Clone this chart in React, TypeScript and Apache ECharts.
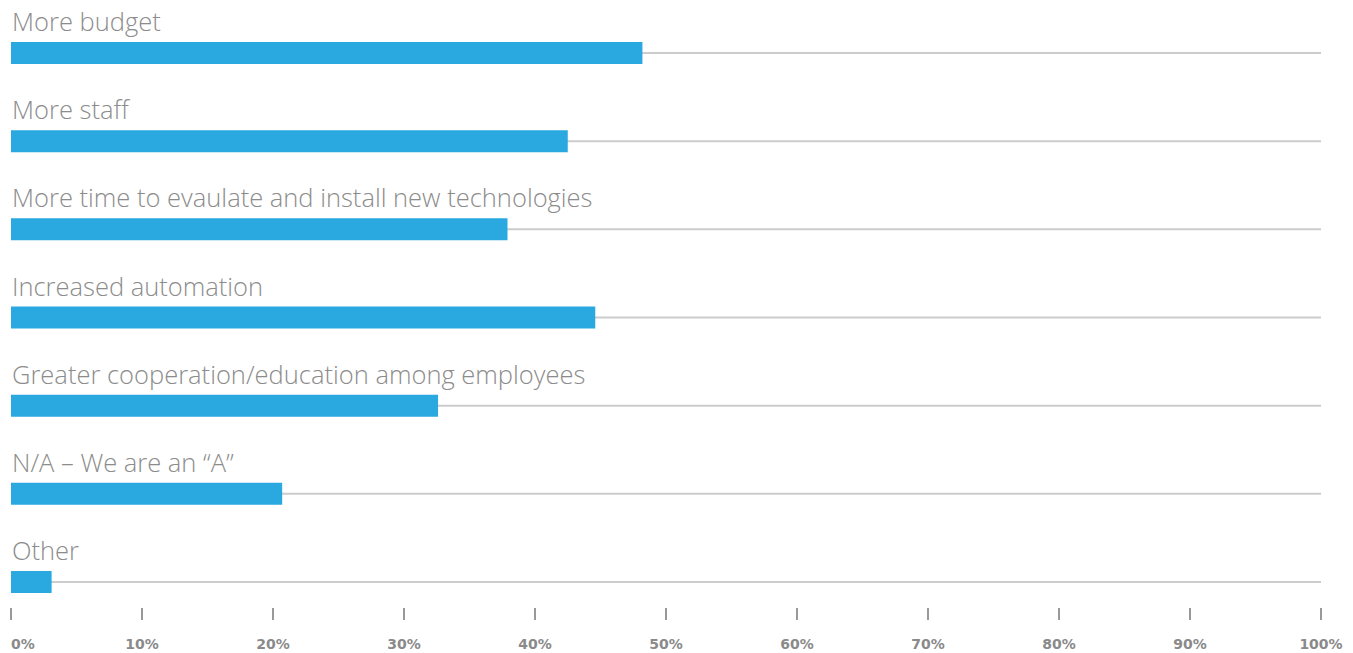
import React, { useEffect, useRef } from "react";
import * as echarts from "echarts";

const categories = [
  "More budget",
  "More staff",
  "More time to evaulate and install new technologies",
  "Increased automation",
  "Greater cooperation/education among employees",
  "N/A – We are an “A”",
  "Other",
];
const values = [48.2, 42.5, 37.9, 44.6, 32.6, 20.7, 3.1];
const trackValues = [100, 100, 100, 100, 100, 100, 100];
const xTicks = [0, 10, 20, 30, 40, 50, 60, 70, 80, 90, 100];

export default function App() {
  const ref = useRef<HTMLDivElement>(null);
  useEffect(() => {
    if (!ref.current) return;
    const chart = echarts.init(ref.current, null, { renderer: "svg" });
    const hiddenCat = {
      type: "category",
      data: categories,
      inverse: true,
      axisLine: { show: false },
      axisTick: { show: false },
      axisLabel: { show: false },
    };
    chart.setOption({
      animation: false,
      grid: {
        left: 11,
        right: 32,
        top: 9,
        bottom: 27,
        containLabel: false,
        outerBoundsMode: "none",
      },
      xAxis: {
        type: "value",
        min: xTicks[0],
        max: xTicks[xTicks.length - 1],
        interval: 10,
        offset: -6,
        axisLine: { show: false },
        axisTick: { show: true, inside: true, length: 12, lineStyle: { color: "#999", width: 2 } },
        splitLine: { show: false },
        axisLabel: {
          formatter: "{value}%",
          margin: 17,
          color: "#8a8a8a",
          fontFamily: "DejaVu Sans",
          fontWeight: "bold",
          fontSize: 14,
          lineHeight: 14,
          alignMinLabel: "left",
        },
      },
      yAxis: [hiddenCat, { ...hiddenCat }],
      series: [
        {
          type: "bar",
          yAxisIndex: 1,
          data: trackValues,
          barWidth: 2,
          itemStyle: { color: "#cccccc" },
          silent: true,
          z: 1,
        },
        {
          type: "bar",
          yAxisIndex: 0,
          data: values,
          barWidth: 22,
          itemStyle: { color: "#29a9e0" },
          z: 2,
          label: {
            show: true,
            position: [1, -8],
            align: "left",
            verticalAlign: "bottom",
            formatter: "{b}",
            color: "#8c8c8c",
            fontFamily: "Open Sans",
            fontWeight: 300,
            fontSize: 25.5,
          },
        },
      ],
    });
    return () => chart.dispose();
  }, []);
  return <div ref={ref} style={{ width: 1353, height: 653, position: "absolute", left: 0, top: 0 }} />;
}
